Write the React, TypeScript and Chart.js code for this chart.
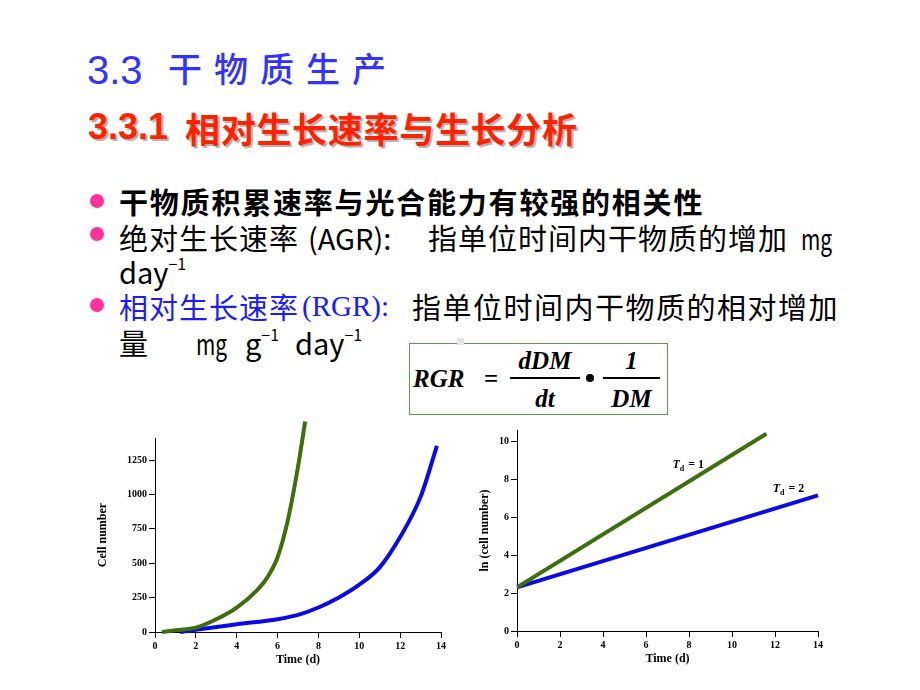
import React, { useEffect, useRef } from "react";
import { Chart, registerables } from "chart.js";
Chart.register(...registerables);

// ---- data ----
const timeTicks = [0, 2, 4, 6, 8, 10, 12, 14];
const cellTicks = [0, 250, 500, 750, 1000, 1250];
const lnTicks = [0, 2, 4, 6, 8, 10];

const fastX = [0.33, 1, 2, 3, 4, 5, 5.5, 6, 6.5, 7, 7.35];
const fastY = [0, 12, 32, 93, 178, 305, 397, 543, 811, 1201, 1530];
const slowX = [1.23, 2, 4, 6, 7, 8, 9, 10, 11, 12, 13, 13.8];
const slowY = [0, 17, 56, 93, 124, 178, 251, 344, 470, 690, 982, 1352];

const lnFastX = [0, 11.6];
const lnFastY = [2.3, 10.4];
const lnSlowX = [0, 14];
const lnSlowY = [2.3, 7.15];

const tdLabelX = [7.23, 11.89];
const tdLabelY = [8.62, 7.32];
const tdLabelValue = ["1", "2"];

const GREEN = "#3d6f0c";
const BLUE = "#0a0ae6";
const SERIF = "'Liberation Serif', 'DejaVu Serif', serif";

const pts = (xs: number[], ys: number[]) => xs.map((x, i) => ({ x, y: ys[i] }));

function axis(min: number, max: number, ticks: number[], title: string, titlePad: any) {
  return {
    type: "linear",
    min,
    max,
    afterBuildTicks: (a: any) => {
      a.ticks = ticks.map((v) => ({ value: v }));
    },
    ticks: {
      color: "#000",
      font: { family: SERIF, size: 10, weight: "bold" },
      padding: 2,
      autoSkip: false,
      maxRotation: 0,
      callback: (v: any) => String(v),
    },
    grid: {
      display: true,
      drawOnChartArea: false,
      drawTicks: true,
      tickLength: 6,
      color: "#000",
    },
    border: { display: true, color: "#000", width: 1 },
    title: {
      display: true,
      text: title,
      color: "#000",
      font: { family: SERIF, size: 12, weight: "bold", lineHeight: 1 },
      padding: titlePad,
    },
  };
}

const tdPlugin = {
  id: "tdLabels",
  afterDatasetsDraw(chart: any) {
    const { ctx, scales } = chart;
    ctx.save();
    ctx.fillStyle = "#000";
    ctx.textBaseline = "alphabetic";
    tdLabelX.forEach((lx, i) => {
      let px = scales.x.getPixelForValue(lx);
      const py = scales.y.getPixelForValue(tdLabelY[i]);
      ctx.font = `italic bold 12px ${SERIF}`;
      ctx.fillText("T", px, py);
      px += ctx.measureText("T").width;
      ctx.font = `bold 8px ${SERIF}`;
      ctx.fillText("d", px, py + 3);
      px += ctx.measureText("d").width + 4;
      ctx.font = `bold 12px ${SERIF}`;
      ctx.fillText("= " + tdLabelValue[i], px, py);
    });
    ctx.restore();
  },
};

function GrowthChart() {
  const ref = useRef<HTMLCanvasElement>(null);
  useEffect(() => {
    const chart = new Chart(ref.current!, {
      type: "line",
      data: {
        datasets: [
          {
            data: pts(fastX, fastY),
            borderColor: GREEN,
            borderWidth: 4,
            pointRadius: 0,
            cubicInterpolationMode: "monotone",
            clip: false,
          } as any,
          {
            data: pts(slowX, slowY),
            borderColor: BLUE,
            borderWidth: 4,
            pointRadius: 0,
            cubicInterpolationMode: "monotone",
            clip: false,
          } as any,
        ],
      },
      options: {
        animation: false,
        responsive: false,
        layout: { padding: { top: 23, right: 12, left: 9, bottom: 4 } },
        plugins: { legend: { display: false }, tooltip: { enabled: false } },
        scales: {
          x: axis(0, 14, timeTicks, "Time (d)", { top: 0, bottom: 0 }),
          y: axis(0, 1410, cellTicks, "Cell number", { top: 0, bottom: 16 }),
        } as any,
      },
    });
    return () => chart.destroy();
  }, []);
  return (
    <canvas
      ref={ref}
      width={365}
      height={255}
      style={{ position: "absolute", left: 88, top: 415, width: 365, height: 255 }}
    />
  );
}

function LnChart() {
  const ref = useRef<HTMLCanvasElement>(null);
  useEffect(() => {
    const chart = new Chart(ref.current!, {
      type: "line",
      data: {
        datasets: [
          {
            data: pts(lnFastX, lnFastY),
            borderColor: GREEN,
            borderWidth: 4,
            pointRadius: 0,
          },
          {
            data: pts(lnSlowX, lnSlowY),
            borderColor: BLUE,
            borderWidth: 4,
            pointRadius: 0,
            clip: false,
          } as any,
        ],
      },
      options: {
        animation: false,
        responsive: false,
        layout: { padding: { top: 10, right: 12, left: 9, bottom: 5 } },
        plugins: { legend: { display: false }, tooltip: { enabled: false } },
        scales: {
          x: axis(0, 14, timeTicks, "Time (d)", { top: 0, bottom: 0 }),
          y: axis(0, 10.6, lnTicks, "ln (cell number)", { top: 0, bottom: 6 }),
        } as any,
      },
      plugins: [tdPlugin],
    });
    return () => chart.destroy();
  }, []);
  return (
    <canvas
      ref={ref}
      width={360}
      height={250}
      style={{ position: "absolute", left: 470, top: 420, width: 360, height: 250 }}
    />
  );
}

const CJK = "'Noto Sans CJK SC', 'Noto Sans', sans-serif";

const abs = (left: number, top: number, extra: React.CSSProperties = {}): React.CSSProperties => ({
  position: "absolute",
  left,
  top,
  whiteSpace: "nowrap",
  lineHeight: 1,
  ...extra,
});

function Bullet({ x, y }: { x: number; y: number }) {
  return (
    <div
      style={{
        position: "absolute",
        left: x - 7,
        top: y - 7,
        width: 14,
        height: 14,
        borderRadius: "50%",
        background: "#ff3399",
      }}
    />
  );
}

const body: React.CSSProperties = { fontFamily: CJK, fontSize: 29, color: "#000" };
const narrow: React.CSSProperties = { ...body, transform: "scaleX(0.72)", transformOrigin: "left top" };
const sup: React.CSSProperties = { fontSize: 16, verticalAlign: "top", position: "relative", top: -2 };

function Formula() {
  const f: React.CSSProperties = { fontFamily: SERIF, fontStyle: "italic", fontWeight: "bold", fontSize: 25, color: "#000" };
  return (
    <>
      <div
        style={{
          position: "absolute",
          left: 409,
          top: 343,
          width: 257,
          height: 70,
          border: "1.5px solid #5b9b4b",
        }}
      />
      <div style={{ position: "absolute", left: 457, top: 338, width: 7, height: 7, background: "#e4e4e4" }} />
      <div style={abs(413, 366, f)}>RGR</div>
      <div style={abs(484, 366, { ...f, fontStyle: "normal" })}>=</div>
      <div style={abs(510, 348, { ...f, width: 70, textAlign: "center" })}>dDM</div>
      <div style={{ position: "absolute", left: 510, top: 377, width: 70, height: 1.5, background: "#000" }} />
      <div style={abs(510, 386, { ...f, width: 70, textAlign: "center" })}>dt</div>
      <div style={{ position: "absolute", left: 586, top: 374, width: 8, height: 8, borderRadius: "50%", background: "#000" }} />
      <div style={{ position: "absolute", left: 603, top: 377, width: 57, height: 1.5, background: "#000" }} />
      <div style={abs(603, 348, { ...f, width: 57, textAlign: "center" })}>1</div>
      <div style={abs(603, 386, { ...f, width: 57, textAlign: "center" })}>DM</div>
    </>
  );
}

export default function App() {
  return (
    <div
      style={{
        position: "absolute",
        left: 0,
        top: 0,
        width: 920,
        height: 690,
        background: "#fff",
        overflow: "hidden",
      }}
    >
      {/* Titles */}
      <div style={abs(87, 50, { fontFamily: "'Liberation Sans', Arial, sans-serif", fontSize: 40, color: "#3333ff" })}>3.3</div>
      <div style={abs(168, 51, { fontFamily: CJK, fontSize: 34, fontWeight: 500, color: "#3333ff", letterSpacing: 12 })}>干物质生产</div>
      <div
        style={abs(88, 109, {
          fontFamily: "'Liberation Sans', Arial, sans-serif",
          fontWeight: "bold",
          fontSize: 36,
          color: "#ff2200",
          textShadow: "2px 2px 1px #b0b0b0",
        })}
      >
        3.3.1
      </div>
      <div
        style={abs(185, 110, {
          fontFamily: CJK,
          fontWeight: "bold",
          fontSize: 35,
          color: "#ff2200",
          textShadow: "2px 2px 1px #b0b0b0",
          letterSpacing: 0.7,
        })}
      >
        相对生长速率与生长分析
      </div>

      {/* Bullets */}
      <Bullet x={97} y={201} />
      <Bullet x={97} y={234} />
      <Bullet x={97} y={305} />

      <div style={abs(119, 187, { ...body, fontWeight: "bold", letterSpacing: 1.8 })}>干物质积累速率与光合能力有较强的相关性</div>

      <div style={abs(119, 223, { ...body, letterSpacing: 1 })}>绝对生长速率</div>
      <div style={abs(308, 223, body)}>(AGR):</div>
      <div style={abs(428, 223, { ...body, letterSpacing: 1 })}>指单位时间内干物质的增加</div>
      <div style={abs(801, 223, narrow)}>mg</div>
      <div style={abs(119, 257, body)}>
        day<span style={sup}>−1</span>
      </div>

      <div style={abs(119, 292, { ...body, color: "#1a1aff", letterSpacing: 1 })}>相对生长速率</div>
      <div style={abs(302, 292, { ...body, color: "#1a1aff", fontFamily: SERIF })}>(RGR):</div>
      <div style={abs(412, 292, { ...body, letterSpacing: 1.5 })}>指单位时间内干物质的相对增加</div>

      <div style={abs(119, 328, body)}>量</div>
      <div style={abs(196, 328, narrow)}>mg</div>
      <div style={abs(245, 328, body)}>
        g<span style={sup}>−1</span>
      </div>
      <div style={abs(295, 328, body)}>
        day<span style={sup}>−1</span>
      </div>

      <Formula />
      <GrowthChart />
      <LnChart />
    </div>
  );
}
